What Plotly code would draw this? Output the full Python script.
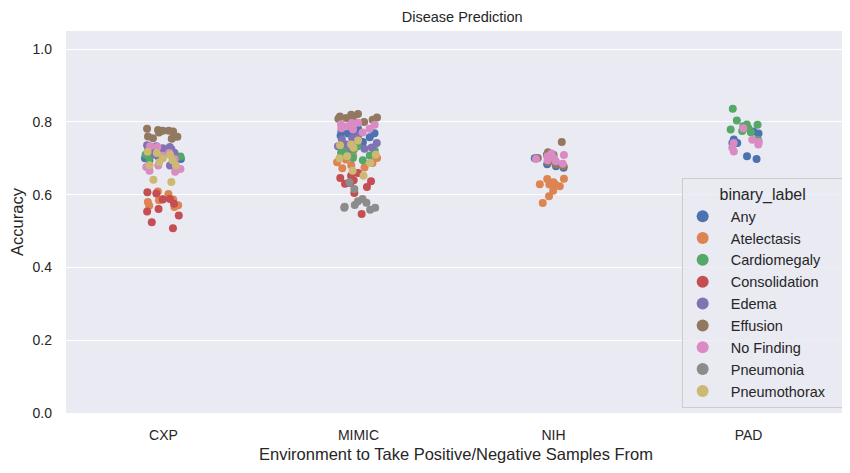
import plotly.graph_objects as go

envs = ["CXP", "MIMIC", "NIH", "PAD"]
labels = ["Any", "Atelectasis", "Cardiomegaly", "Consolidation", "Edema",
          "Effusion", "No Finding", "Pneumonia", "Pneumothorax"]
colors = ["#4C72B0", "#DD8452", "#55A868", "#C44E52", "#8172B3",
          "#937860", "#DA8BC3", "#8C8C8C", "#CCB974"]

# accuracy values, per label and environment
any_cxp = [0.695, 0.698, 0.710, 0.715, 0.720, 0.705, 0.700, 0.725, 0.712, 0.690]
any_mimic = [0.781, 0.768, 0.771, 0.769, 0.774, 0.762, 0.753, 0.758, 0.745, 0.776]
any_nih = [0.684, 0.710, 0.674, 0.678, 0.700, 0.705]
any_pad = [0.768, 0.742, 0.749, 0.742, 0.706, 0.698, 0.774, 0.752]

atel_cxp = [0.588, 0.602, 0.609, 0.585, 0.571, 0.566, 0.587, 0.570, 0.580]
atel_mimic = [0.675, 0.701, 0.707, 0.687, 0.673, 0.689, 0.697, 0.681]
atel_nih = [0.634, 0.643, 0.628, 0.629, 0.644, 0.628, 0.623, 0.611, 0.596, 0.577]

cardio_cxp = [0.717, 0.710, 0.733, 0.705, 0.700, 0.722, 0.728, 0.715, 0.695, 0.712]
cardio_mimic = [0.724, 0.719, 0.701, 0.695, 0.733, 0.726, 0.715, 0.722, 0.708, 0.730]
cardio_pad = [0.836, 0.804, 0.793, 0.792, 0.783, 0.779, 0.772, 0.751, 0.788, 0.775]

consol_cxp = [0.603, 0.587, 0.561, 0.554, 0.607, 0.588, 0.575, 0.543, 0.524, 0.508]
consol_mimic = [0.660, 0.646, 0.632, 0.630, 0.621, 0.637, 0.605, 0.547, 0.652, 0.640]

edema_cxp = [0.733, 0.731, 0.736, 0.680, 0.715, 0.719, 0.725, 0.710, 0.728, 0.722]
edema_mimic = [0.760, 0.747, 0.726, 0.730, 0.752, 0.733, 0.742, 0.728, 0.738, 0.755]

effusion_cxp = [0.776, 0.781, 0.778, 0.774, 0.771, 0.760, 0.755, 0.776, 0.754, 0.759]
effusion_mimic = [0.822, 0.806, 0.811, 0.809, 0.820, 0.813, 0.805, 0.815, 0.800, 0.812]
effusion_nih = [0.745, 0.717, 0.678, 0.683, 0.701, 0.710, 0.690]

nofind_cxp = [0.663, 0.676, 0.666, 0.680, 0.671, 0.715, 0.707, 0.731, 0.698, 0.733]
nofind_mimic = [0.793, 0.781, 0.792, 0.797, 0.794, 0.798, 0.783, 0.779, 0.771, 0.788]
nofind_nih = [0.685, 0.713, 0.701, 0.695, 0.692, 0.706, 0.709, 0.698]
nofind_pad = [0.783, 0.719, 0.738, 0.742, 0.751, 0.729, 0.745]

pneumonia_mimic = [0.634, 0.616, 0.582, 0.588, 0.559, 0.564, 0.567, 0.564, 0.578, 0.572]

pneumothorax_cxp = [0.641, 0.635, 0.695, 0.718, 0.710, 0.689, 0.715, 0.680, 0.681, 0.700]
pneumothorax_mimic = [0.738, 0.749, 0.729, 0.736, 0.706, 0.710, 0.687, 0.666, 0.652, 0.700]

data = {
    "Any": {"CXP": any_cxp, "MIMIC": any_mimic, "NIH": any_nih, "PAD": any_pad},
    "Atelectasis": {"CXP": atel_cxp, "MIMIC": atel_mimic, "NIH": atel_nih},
    "Cardiomegaly": {"CXP": cardio_cxp, "MIMIC": cardio_mimic, "PAD": cardio_pad},
    "Consolidation": {"CXP": consol_cxp, "MIMIC": consol_mimic},
    "Edema": {"CXP": edema_cxp, "MIMIC": edema_mimic},
    "Effusion": {"CXP": effusion_cxp, "MIMIC": effusion_mimic, "NIH": effusion_nih},
    "No Finding": {"CXP": nofind_cxp, "MIMIC": nofind_mimic, "NIH": nofind_nih, "PAD": nofind_pad},
    "Pneumonia": {"MIMIC": pneumonia_mimic},
    "Pneumothorax": {"CXP": pneumothorax_cxp, "MIMIC": pneumothorax_mimic},
}

font = "Liberation Sans, Arial, sans-serif"
txt = "#262626"
nb = "\u00a0"

fig = go.Figure()
for lab, col in zip(labels, colors):
    xs, ys = [], []
    for env in envs:
        vals = data[lab].get(env, [])
        xs += [env] * len(vals)
        ys += vals
    # invisible box, only the jittered points are shown (strip plot)
    fig.add_trace(go.Box(
        x=xs, y=ys, name=lab, boxpoints="all", jitter=1, pointpos=0,
        width=0.23, fillcolor="rgba(0,0,0,0)",
        line=dict(width=0, color="rgba(0,0,0,0)"),
        marker=dict(color=col, size=8, line=dict(width=0)),
        showlegend=False, hoverinfo="y+name",
    ))
    # legend entry as a dot, padded a bit like the matplotlib legend
    fig.add_trace(go.Scatter(
        x=[None], y=[None], mode="markers", name=nb * 2 + lab + nb * 3,
        marker=dict(color=col, size=9),
    ))

# page body has an 8px margin, so the figure is 8px smaller than the window
fig.update_layout(
    width=842, height=465,
    margin=dict(l=58, r=4, t=23, b=60),
    paper_bgcolor="white", plot_bgcolor="#EAEAF2",
    font=dict(family=font, size=14, color=txt),
    boxmode="overlay",
    title=dict(text="Disease Prediction", xref="paper", x=0.508, xanchor="center",
               yref="container", y=0.981, yanchor="middle",
               font=dict(size=14.5, color=txt)),
    legend=dict(
        title=dict(text="binary_label", side="top center", font=dict(size=16)),
        x=0.997, xanchor="right", y=0.012, yanchor="bottom",
        bgcolor="rgba(234,234,242,0.8)", bordercolor="#CCCCCC", borderwidth=1,
        font=dict(size=14.5), itemsizing="constant", itemwidth=30,
    ),
)
fig.update_xaxes(
    categoryorder="array", categoryarray=envs, range=[-0.5, 3.5],
    showgrid=False, zeroline=False, ticks="", ticklabelstandoff=12,
    title=dict(text="Environment to Take Positive/Negative Samples From",
               font=dict(size=16.5), standoff=6),
    tickfont=dict(size=14),
)
fig.update_yaxes(
    range=[0, 1.05], tickvals=[0, 0.2, 0.4, 0.6, 0.8, 1.0], tickformat=".1f",
    gridcolor="white", gridwidth=1, zeroline=False, ticks="", ticklabelstandoff=13,
    title=dict(text="Accuracy", font=dict(size=16.5), standoff=4),
    tickfont=dict(size=14),
)

fig.write_html("out.html")
